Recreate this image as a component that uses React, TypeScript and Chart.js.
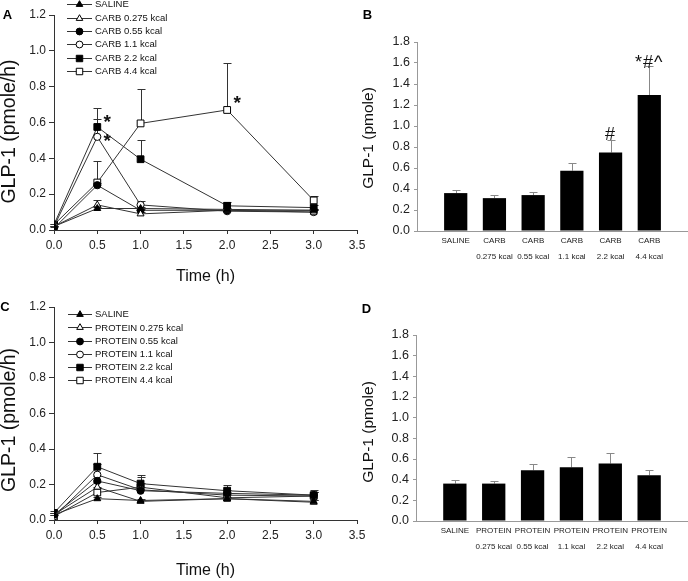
import React, { useEffect, useRef } from 'react';
import { Chart, registerables } from 'chart.js';

Chart.register(...registerables);

const FONT = "'Liberation Sans', Arial, Helvetica, sans-serif";

// ---------------- data ----------------
const TIMES = [0, 0.5, 1, 2, 3];
const TIME_TICKS = [0, 0.5, 1, 1.5, 2, 2.5, 3, 3.5];
const LINE_Y_TICKS = [0, 0.2, 0.4, 0.6, 0.8, 1.0, 1.2];
const BAR_Y_TICKS = [0, 0.2, 0.4, 0.6, 0.8, 1.0, 1.2, 1.4, 1.6, 1.8];

const CARB_SERIES = ['SALINE', 'CARB 0.275 kcal', 'CARB 0.55 kcal', 'CARB 1.1 kcal', 'CARB 2.2 kcal', 'CARB 4.4 kcal'];
const CARB_SALINE = [0.02, 0.12, 0.12, 0.115, 0.11];
const CARB_0275 = [0.02, 0.14, 0.09, 0.11, 0.10];
const CARB_055 = [0.01, 0.25, 0.11, 0.11, 0.11];
const CARB_11 = [0.02, 0.52, 0.14, 0.105, 0.10];
const CARB_22 = [0.03, 0.575, 0.395, 0.135, 0.125];
const CARB_44 = [0.03, 0.265, 0.595, 0.67, 0.165];
const CARB_SALINE_ERR = [0.005, 0.01, 0.01, 0.01, 0.01];
const CARB_0275_ERR = [0.005, 0.025, 0.01, 0.01, 0.01];
const CARB_055_ERR = [0.005, 0.01, 0.01, 0.01, 0.01];
const CARB_11_ERR = [0.005, 0.10, 0.02, 0.01, 0.01];
const CARB_22_ERR = [0.005, 0.105, 0.105, 0.02, 0.015];
const CARB_44_ERR = [0.005, 0.12, 0.19, 0.26, 0.025];

const PROTEIN_SERIES = ['SALINE', 'PROTEIN 0.275 kcal', 'PROTEIN 0.55 kcal', 'PROTEIN 1.1 kcal', 'PROTEIN 2.2 kcal', 'PROTEIN 4.4 kcal'];
const PROT_SALINE = [0.03, 0.12, 0.11, 0.12, 0.105];
const PROT_0275 = [0.03, 0.185, 0.105, 0.12, 0.10];
const PROT_055 = [0.03, 0.22, 0.165, 0.15, 0.14];
const PROT_11 = [0.02, 0.255, 0.17, 0.14, 0.135];
const PROT_22 = [0.04, 0.30, 0.205, 0.165, 0.14];
const PROT_44 = [0.02, 0.155, 0.185, 0.125, 0.135];
const PROT_SALINE_ERR = [0.01, 0.01, 0.01, 0.01, 0.01];
const PROT_0275_ERR = [0.01, 0.03, 0.01, 0.01, 0.01];
const PROT_055_ERR = [0.01, 0.03, 0.02, 0.02, 0.02];
const PROT_11_ERR = [0.01, 0.06, 0.04, 0.02, 0.02];
const PROT_22_ERR = [0.01, 0.075, 0.05, 0.03, 0.02];
const PROT_44_ERR = [0.01, 0.03, 0.055, 0.02, 0.035];

const CARB_BAR_TOP = ['SALINE', 'CARB', 'CARB', 'CARB', 'CARB', 'CARB'];
const PROTEIN_BAR_TOP = ['SALINE', 'PROTEIN', 'PROTEIN', 'PROTEIN', 'PROTEIN', 'PROTEIN'];
const BAR_BOTTOM = ['', '0.275 kcal', '0.55 kcal', '1.1 kcal', '2.2 kcal', '4.4 kcal'];
const CARB_TOTAL = [0.361, 0.313, 0.342, 0.575, 0.748, 1.295];
const CARB_TOTAL_ERR = [0.032, 0.032, 0.032, 0.068, 0.115, 0.278];
const PROTEIN_TOTAL = [0.362, 0.362, 0.491, 0.52, 0.556, 0.443];
const PROTEIN_TOTAL_ERR = [0.032, 0.026, 0.058, 0.10, 0.10, 0.055];

const CARB_TIME_MARKS = [
  { x: 0.5, y: 0.625, text: '*' },
  { x: 0.5, y: 0.519, text: '*' },
  { x: 2, y: 0.731, text: '*' },
];
const CARB_TOTAL_MARKS = [
  { x: 4, y: 0.933, text: '#' },
  { x: 5, y: 1.61, text: '*#^' },
];

// ---------------- styles ----------------
const MARKERS = [
  { shape: 'triangle', filled: true },
  { shape: 'triangle', filled: false },
  { shape: 'circle', filled: true },
  { shape: 'circle', filled: false },
  { shape: 'rect', filled: true },
  { shape: 'rect', filled: false },
];
const RADIUS: Record<string, number> = { triangle: 4, circle: 3.6, rect: 4.8 };

function drawMarker(ctx: CanvasRenderingContext2D, shape: string, x: number, y: number, r: number, filled: boolean) {
  ctx.save();
  ctx.beginPath();
  if (shape === 'circle') {
    ctx.arc(x, y, r, 0, Math.PI * 2);
  } else if (shape === 'rect') {
    const s = r * Math.SQRT1_2;
    ctx.rect(x - s, y - s, 2 * s, 2 * s);
  } else {
    for (let k = 0; k < 3; k++) {
      const a = (k * 2 * Math.PI) / 3;
      const px = x + Math.sin(a) * r;
      const py = y - Math.cos(a) * r;
      if (k === 0) ctx.moveTo(px, py);
      else ctx.lineTo(px, py);
    }
    ctx.closePath();
  }
  ctx.fillStyle = filled ? '#000' : '#fff';
  ctx.fill();
  ctx.strokeStyle = '#000';
  ctx.lineWidth = 1;
  ctx.stroke();
  ctx.restore();
}

// ---------------- plugins ----------------
const errorBarPlugin = {
  id: 'errorBars',
  beforeDatasetsDraw(chart: any, _args: any, opts: any) {
    const { ctx } = chart;
    const ys = chart.scales.y;
    chart.data.datasets.forEach((ds: any, i: number) => {
      const errs = ds.errors;
      if (!errs) return;
      const meta = chart.getDatasetMeta(i);
      meta.data.forEach((el: any, j: number) => {
        const e = errs[j];
        if (!e) return;
        const v = ds.data[j].y;
        const x = Math.round(el.x) + 0.5;
        const y0 = ys.getPixelForValue(v);
        const y1 = Math.round(ys.getPixelForValue(v + e)) + 0.5;
        ctx.save();
        ctx.strokeStyle = opts.color;
        ctx.lineWidth = 1;
        ctx.beginPath();
        ctx.moveTo(x, y0);
        ctx.lineTo(x, y1);
        ctx.moveTo(x - opts.cap, y1);
        ctx.lineTo(x + opts.cap, y1);
        ctx.stroke();
        ctx.restore();
      });
    });
  },
};

const marksPlugin = {
  id: 'marks',
  afterDraw(chart: any, _args: any, opts: any) {
    if (!opts.items || !opts.items.length) return;
    const { ctx } = chart;
    ctx.save();
    ctx.fillStyle = '#111';
    ctx.font = `${opts.weight || 'normal'} ${opts.size}px ${FONT}`;
    if (opts.spacing) (ctx as any).letterSpacing = opts.spacing;
    ctx.textAlign = 'center';
    ctx.textBaseline = 'alphabetic';
    opts.items.forEach((it: any) => {
      const px = chart.scales.x.getPixelForValue(it.x) + (opts.dx || 0);
      const py = chart.scales.y.getPixelForValue(it.y);
      const m = ctx.measureText(it.text);
      const base = py + (m.actualBoundingBoxAscent - m.actualBoundingBoxDescent) / 2;
      ctx.fillText(it.text, px, base);
    });
    ctx.restore();
  },
};

const panelTextPlugin = {
  id: 'panelText',
  afterDraw(chart: any, _args: any, o: any) {
    const { ctx } = chart;
    ctx.save();
    ctx.fillStyle = '#000';
    ctx.textAlign = 'center';
    ctx.textBaseline = 'middle';
    ctx.font = `bold 13px ${FONT}`;
    ctx.fillText(o.letter, o.letterX, o.letterY);
    ctx.fillStyle = '#111';
    ctx.font = `${o.titleSize}px ${FONT}`;
    ctx.translate(o.titleX, o.titleY);
    ctx.rotate(-Math.PI / 2);
    ctx.fillText(o.title, 0, 0);
    ctx.restore();
  },
};

const lineLegendPlugin = {
  id: 'lineLegend',
  afterDraw(chart: any, _args: any, o: any) {
    const { ctx } = chart;
    ctx.save();
    chart.data.datasets.forEach((ds: any, i: number) => {
      const y = o.y0 + i * o.dy;
      ctx.strokeStyle = '#333';
      ctx.lineWidth = 1;
      ctx.beginPath();
      ctx.moveTo(o.x1, Math.round(y) + 0.5);
      ctx.lineTo(o.x2, Math.round(y) + 0.5);
      ctx.stroke();
      const mk = MARKERS[i];
      drawMarker(ctx, mk.shape, (o.x1 + o.x2) / 2, Math.round(y) + 0.5, RADIUS[mk.shape] * 0.95, mk.filled);
      ctx.fillStyle = '#111';
      ctx.font = `9.5px ${FONT}`;
      ctx.textAlign = 'left';
      ctx.textBaseline = 'middle';
      ctx.fillText(ds.label, o.textX, y + 0.5);
    });
    ctx.restore();
  },
};

// ---------------- panels ----------------
type LineProps = {
  left: number; top: number; width: number; height: number;
  series: string[]; values: number[][]; errors: number[][];
  marks: { x: number; y: number; text: string }[];
  areaTop: number; xHeight: number; titlePad: number;
  letter: string; letterX: number; letterY: number; titleX: number; titleY: number;
  legend: { x1: number; x2: number; textX: number; y0: number; dy: number };
};

function LinePanel(p: LineProps) {
  const ref = useRef<HTMLCanvasElement | null>(null);
  useEffect(() => {
    if (!ref.current) return;
    const datasets = p.series.map((label, i) => {
      const mk = MARKERS[i];
      return {
        label,
        data: TIMES.map((t, j) => ({ x: t, y: p.values[i][j] })),
        errors: p.errors[i],
        borderColor: '#333',
        borderWidth: 1,
        pointStyle: mk.shape,
        pointRadius: RADIUS[mk.shape],
        pointBackgroundColor: mk.filled ? '#000' : '#fff',
        pointBorderColor: '#000',
        pointBorderWidth: 1,
        tension: 0,
        fill: false,
      };
    });
    const chart = new Chart(ref.current, {
      type: 'line',
      data: { datasets } as any,
      plugins: [errorBarPlugin, marksPlugin, panelTextPlugin, lineLegendPlugin],
      options: {
        animation: false,
        responsive: false,
        events: [],
        layout: { padding: { left: 0, right: p.width - 357, top: p.areaTop, bottom: 0 } },
        scales: {
          x: {
            type: 'linear',
            min: 0,
            max: 3.5,
            afterBuildTicks: (s: any) => { s.ticks = TIME_TICKS.map((v) => ({ value: v })); },
            afterFit: (s: any) => { s.height = p.xHeight; },
            ticks: {
              callback: (v: any) => Number(v).toFixed(1),
              font: { family: FONT, size: 12 },
              color: '#222',
              padding: 4,
              maxRotation: 0,
              autoSkip: false,
            },
            grid: { display: true, drawOnChartArea: false, drawTicks: true, tickLength: 4, color: '#333' },
            border: { display: true, color: '#333', width: 1 },
            title: {
              display: true,
              text: 'Time (h)',
              font: { family: FONT, size: 16 },
              color: '#111',
              padding: { top: 0, bottom: p.titlePad },
            },
          },
          y: {
            type: 'linear',
            min: 0,
            max: 1.2,
            afterBuildTicks: (s: any) => { s.ticks = LINE_Y_TICKS.map((v) => ({ value: v })); },
            afterFit: (s: any) => { s.width = 54; },
            ticks: {
              callback: (v: any) => Number(v).toFixed(1),
              font: { family: FONT, size: 12 },
              color: '#222',
              padding: 3,
            },
            grid: { display: true, drawOnChartArea: false, drawTicks: true, tickLength: 5, color: '#333' },
            border: { display: true, color: '#333', width: 1 },
          },
        },
        plugins: {
          legend: { display: false },
          tooltip: { enabled: false },
          errorBars: { color: '#333', cap: 4 },
          marks: { items: p.marks, size: 19, weight: 'bold', dx: 10 },
          panelText: {
            letter: p.letter, letterX: p.letterX, letterY: p.letterY,
            title: 'GLP-1 (pmole/h)', titleX: p.titleX, titleY: p.titleY, titleSize: 19.5,
          },
          lineLegend: p.legend,
        } as any,
      } as any,
    });
    return () => chart.destroy();
  }, []);
  return (
    <div style={{ position: 'absolute', left: p.left, top: p.top, width: p.width, height: p.height }}>
      <canvas ref={ref} width={p.width} height={p.height} style={{ display: 'block' }} />
    </div>
  );
}

type BarProps = {
  left: number; top: number; width: number; height: number;
  top1: string[]; top2: string[]; values: number[]; errors: number[];
  marks: { x: number; y: number; text: string }[];
  areaTop: number; yWidth: number; xHeight: number;
  letter: string; letterX: number; letterY: number; titleX: number; titleY: number;
};

function BarPanel(p: BarProps) {
  const ref = useRef<HTMLCanvasElement | null>(null);
  useEffect(() => {
    if (!ref.current) return;
    const chart = new Chart(ref.current, {
      type: 'bar',
      data: {
        datasets: [
          {
            data: p.values.map((v, i) => ({ x: i, y: v })),
            errors: p.errors,
            backgroundColor: '#000',
            borderWidth: 0,
            barPercentage: 0.6,
            categoryPercentage: 1,
          },
        ],
      } as any,
      plugins: [errorBarPlugin, marksPlugin, panelTextPlugin],
      options: {
        animation: false,
        responsive: false,
        events: [],
        layout: { padding: { left: 0, right: 0, top: p.areaTop, bottom: 0 } },
        scales: {
          x: {
            type: 'linear',
            min: -1,
            max: 6,
            offset: false,
            afterBuildTicks: (s: any) => { s.ticks = p.top1.map((_, i) => ({ value: i })); },
            afterFit: (s: any) => { s.height = p.xHeight; },
            ticks: {
              callback: (_v: any, i: number) => [p.top1[i], p.top2[i]],
              font: { family: FONT, size: 8, lineHeight: 2 },
              color: '#222',
              padding: 2,
              maxRotation: 0,
              autoSkip: false,
            },
            grid: { display: false, drawTicks: false, tickLength: 0, offset: false },
            border: { display: true, color: '#999', width: 1 },
          },
          y: {
            type: 'linear',
            min: 0,
            max: 1.8,
            afterBuildTicks: (s: any) => { s.ticks = BAR_Y_TICKS.map((v) => ({ value: v })); },
            afterFit: (s: any) => { s.width = p.yWidth; },
            ticks: {
              callback: (v: any) => Number(v).toFixed(1),
              font: { family: FONT, size: 12.5 },
              color: '#222',
              padding: 4,
            },
            grid: { display: true, drawOnChartArea: false, drawTicks: true, tickLength: 3, color: '#999' },
            border: { display: true, color: '#999', width: 1 },
          },
        },
        plugins: {
          legend: { display: false },
          tooltip: { enabled: false },
          errorBars: { color: '#888', cap: 4 },
          marks: { items: p.marks, size: 18, weight: 'normal', dx: 0, spacing: '1px' },
          panelText: {
            letter: p.letter, letterX: p.letterX, letterY: p.letterY,
            title: 'GLP-1 (pmole)', titleX: p.titleX, titleY: p.titleY, titleSize: 15.5,
          },
        } as any,
      } as any,
    });
    return () => chart.destroy();
  }, []);
  return (
    <div style={{ position: 'absolute', left: p.left, top: p.top, width: p.width, height: p.height }}>
      <canvas ref={ref} width={p.width} height={p.height} style={{ display: 'block' }} />
    </div>
  );
}

export default function App() {
  return (
    <div style={{ position: 'fixed', left: 0, top: 0, width: 688, height: 581, background: '#fff', overflow: 'hidden' }}>
      <LinePanel
        left={0} top={0} width={372} height={290}
        series={CARB_SERIES}
        values={[CARB_SALINE, CARB_0275, CARB_055, CARB_11, CARB_22, CARB_44]}
        errors={[CARB_SALINE_ERR, CARB_0275_ERR, CARB_055_ERR, CARB_11_ERR, CARB_22_ERR, CARB_44_ERR]}
        marks={CARB_TIME_MARKS}
        areaTop={15} xHeight={60} titlePad={4}
        letter="A" letterX={7.5} letterY={15.5} titleX={10} titleY={131.5}
        legend={{ x1: 67, x2: 92, textX: 95, y0: 4.3, dy: 13.3 }}
      />
      <LinePanel
        left={0} top={290} width={372} height={291}
        series={PROTEIN_SERIES}
        values={[PROT_SALINE, PROT_0275, PROT_055, PROT_11, PROT_22, PROT_44]}
        errors={[PROT_SALINE_ERR, PROT_0275_ERR, PROT_055_ERR, PROT_11_ERR, PROT_22_ERR, PROT_44_ERR]}
        marks={[]}
        areaTop={17} xHeight={61} titlePad={1}
        letter="C" letterX={5} letterY={17} titleX={10} titleY={130}
        legend={{ x1: 68, x2: 92, textX: 95, y0: 24.3, dy: 13.15 }}
      />
      <BarPanel
        left={340} top={0} width={348} height={290}
        top1={CARB_BAR_TOP} top2={BAR_BOTTOM}
        values={CARB_TOTAL} errors={CARB_TOTAL_ERR}
        marks={CARB_TOTAL_MARKS}
        areaTop={42} yWidth={77} xHeight={59}
        letter="B" letterX={27.5} letterY={15.5} titleX={29} titleY={138}
      />
      <BarPanel
        left={340} top={290} width={348} height={291}
        top1={PROTEIN_BAR_TOP} top2={BAR_BOTTOM}
        values={PROTEIN_TOTAL} errors={PROTEIN_TOTAL_ERR}
        marks={[]}
        areaTop={45} yWidth={76} xHeight={60}
        letter="D" letterX={26.5} letterY={19} titleX={29} titleY={142}
      />
    </div>
  );
}
